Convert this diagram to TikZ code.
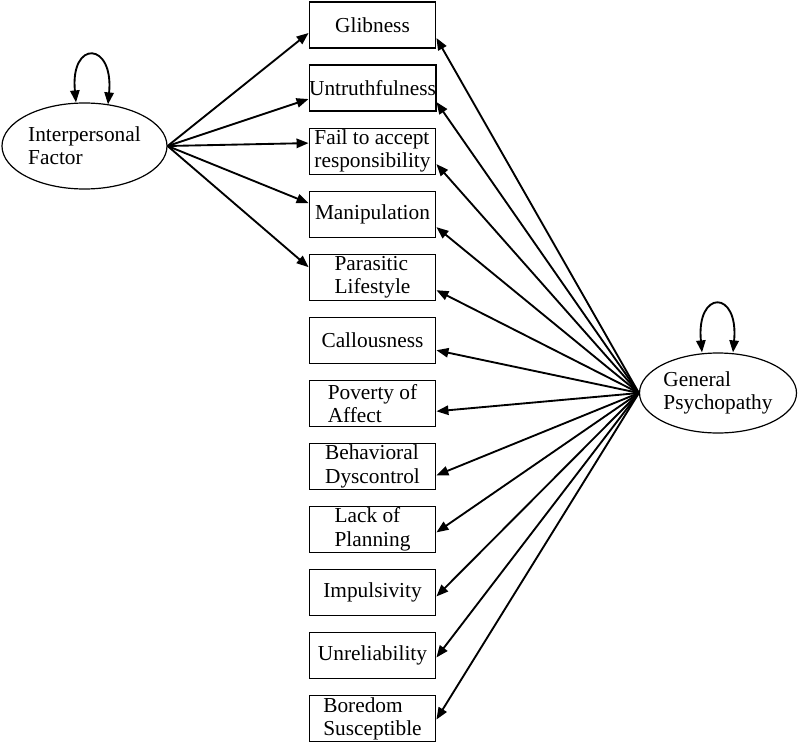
\documentclass[tikz,border=0pt]{standalone}
\usepackage{fontspec}
\setmainfont{Liberation Serif}
\usetikzlibrary{arrows.meta,shapes.geometric,calc}

\begin{document}
\begin{tikzpicture}[x=0.75pt,y=-0.75pt,line width=1.4pt,
    font=\fontsize{16}{17.5}\selectfont,
    >={Triangle[length=9pt,width=7pt]},
    item/.style={draw,line width=0.9pt,minimum width=95pt,minimum height=34.5pt,inner sep=0pt,align=left},
    latent/.style={draw,line width=0.9pt,ellipse,inner sep=0pt,align=left}]
  \useasboundingbox (0,0) rectangle (800,746);
  \node[latent,minimum width=123.75pt,minimum height=64.5pt](IF) at (84.5,146){Interpersonal\\Factor};
  \node[latent,minimum width=117.75pt,minimum height=60pt](GP) at (718,393){General\\Psychopathy};
  \foreach \x/\t/\u in{1/Glibness/13, 2/Untruthfulness/14, 3/{Fail to accept\\responsibility}/13,
      4/Manipulation/13, 5/{Parasitic\\Lifestyle}/13, 6/Callousness/10, 7/{Poverty of\\Affect}/8,
      8/{Behavioral\\Dyscontrol}/9, 9/{Lack of\\Planning}/3, 10/Impulsivity/4, 11/Unreliability/2,
      12/{Boredom\\Susceptible}/1}{
    \node[item](N\x) at (372.5, 25+63.05*\x-63.05){\t};
    \draw[->](GP.west)--($(N\x.east)+(0,\u)$);
  }
  \foreach \x/\v in{1/8, 2/11, 3/-8, 4/-11, 5/-10}{
    \draw[->](IF.east)--($(N\x.west)+(0,\v)$);
  }
  % variances
  \draw[<->]($(IF.north)+(-8.5,0)$) .. controls +(-6,-63) and +(6,-63) .. ($(IF.north)+(23.5,2)$);
  \draw[<->]($(GP.north)+(-16,0)$) .. controls +(-6,-63) and +(6,-63) .. ($(GP.north)+(15,0)$);
\end{tikzpicture}
\end{document}
